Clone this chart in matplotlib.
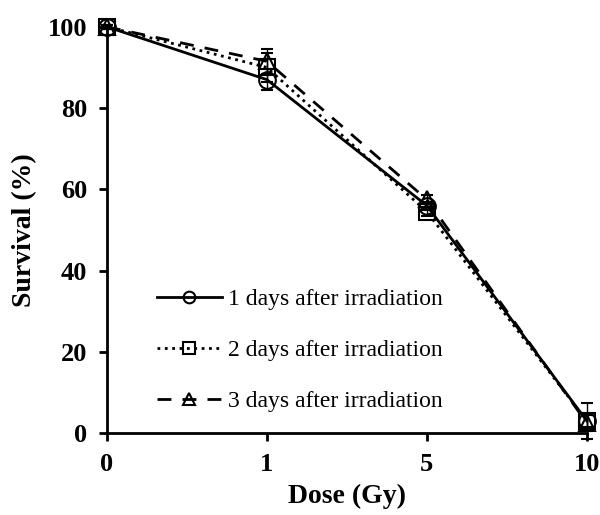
import matplotlib.pyplot as plt

doses = ['0', '1', '5', '10']
day1 = [100, 87, 56, 3]
day2 = [100, 90, 54.5, 3]
day3 = [100, 91.5, 57.5, 2.5]
err1 = [0.5, 2.5, 1.0, 1.5]
err2 = [0.5, 3.5, 1.0, 4.5]
err3 = [0.5, 3.0, 1.0, 2.0]

plt.rcParams['font.family'] = 'Liberation Serif'

fig = plt.figure(figsize=(6, 5.15), dpi=100)
ax = fig.add_axes([0.178, 0.159, 0.8, 0.789])
x = range(len(doses))

series = [
    (day1, err1, '-', 'o', '1 days after irradiation'),
    (day2, err2, ':', 's', '2 days after irradiation'),
    (day3, err3, (0, (5, 4)), '^', '3 days after irradiation'),
]
for y, e, ls, mk, lab in series:
    ax.errorbar(x, y, yerr=e, color='black', linestyle=ls, linewidth=2,
                marker=mk, markersize=12, markerfacecolor='none',
                markeredgewidth=1.5, capsize=4, elinewidth=1,
                label=lab, clip_on=False, zorder=3)

ax.set_xlim(0, 3)
ax.set_ylim(0, 100)
ax.set_xticks(list(x))
ax.set_xticklabels(doses)
ax.set_yticks([0, 20, 40, 60, 80, 100])
for s in ['top', 'right']:
    ax.spines[s].set_visible(False)
for s in ['left', 'bottom']:
    ax.spines[s].set_linewidth(2)
ax.tick_params(direction='out', length=6, width=2, labelsize=19, pad=8)
for t in ax.get_xticklabels() + ax.get_yticklabels():
    t.set_fontweight('bold')

ax.set_xlabel('Dose (Gy)', fontsize=20, fontweight='bold', labelpad=6)
ax.set_ylabel('Survival (%)', fontsize=20, fontweight='bold', labelpad=8)

handles, labels = ax.get_legend_handles_labels()
handles = [h[0] for h in handles]
ax.legend(handles, labels, loc='lower left', bbox_to_anchor=(0.06, 0.0),
          frameon=False, fontsize=17, handlelength=2.75, handletextpad=0.25,
          labelspacing=1.25, markerscale=0.7)

fig.savefig('out.png', dpi=100)
